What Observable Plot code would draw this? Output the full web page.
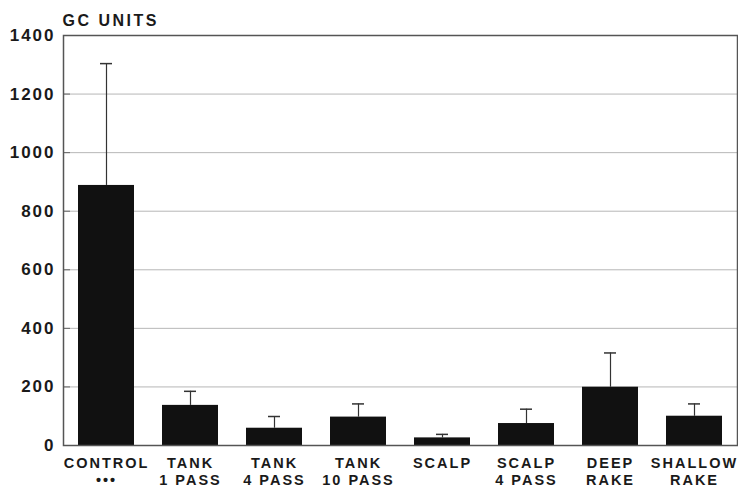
<!DOCTYPE html>
<html>
<head>
<meta charset="utf-8">
<script src="https://cdn.jsdelivr.net/npm/d3@7"></script>
<script src="https://cdn.jsdelivr.net/npm/@observablehq/plot@0.6"></script>
<style>
  html, body { margin: 0; padding: 0; background: #fff; }
  #chart svg { display: block; }
</style>
</head>
<body>
<div id="chart"></div>
<script>
const categories = ["CONTROL", "TANK 1 PASS", "TANK 4 PASS", "TANK 10 PASS", "SCALP", "SCALP 4 PASS", "DEEP RAKE", "SHALLOW RAKE"];
const tickLabels = ["CONTROL\n•••", "TANK\n1 PASS", "TANK\n4 PASS", "TANK\n10 PASS", "SCALP", "SCALP\n4 PASS", "DEEP\nRAKE", "SHALLOW\nRAKE"];
const means = [888, 137, 59, 97, 26, 75, 199, 100];
const errTops = [1304, 185, 99, 142, 38, 124, 316, 142];
const yTicks = [0, 200, 400, 600, 800, 1000, 1200, 1400];
const yLabel = "GC UNITS";

const data = categories.map((c, i) => ({category: c, mean: means[i], err: errTops[i]}));
const labelOf = new Map(categories.map((c, i) => [c, tickLabels[i]]));

const chart = Plot.plot({
  width: 738,
  height: 489,
  marginLeft: 63,
  marginRight: 1,
  marginTop: 35,
  marginBottom: 44,
  style: {fontFamily: "'Liberation Sans', Arial, sans-serif", color: "#1a1a1a", background: "#fff"},
  x: {type: "band", domain: categories, paddingInner: 0.33, paddingOuter: 0.165, axis: null, label: null},
  y: {domain: [0, 1400], axis: null, label: null},
  marks: [
    Plot.gridY(yTicks.slice(1, -1), {stroke: "#999", strokeOpacity: 0.7}),
    Plot.axisY(yTicks.slice(1, -1), {tickSize: 7, dx: 7, tickFormat: () => "", stroke: "#666", label: null}),
    Plot.axisY(yTicks, {tickSize: 0, tickPadding: 8, fontSize: 17, fontWeight: "bold", fill: "#1a1a1a", tickFormat: d => String(d), label: null}),
    Plot.axisX({tickSize: 0, tickPadding: 10, fontSize: 14.5, fontWeight: "bold", lineHeight: 1.2, fill: "#1a1a1a", tickFormat: d => labelOf.get(d), label: null}),
    Plot.ruleX(data, {x: "category", y1: "mean", y2: "err", stroke: "#333", strokeWidth: 1.2}),
    Plot.tickY(data, {x: "category", y: "err", stroke: "#333", strokeWidth: 1.5, insetLeft: 22, insetRight: 22}),
    Plot.barY(data, {x: "category", y: "mean", fill: "#111"}),
    Plot.frame({stroke: "#555", strokeWidth: 1.5}),
    Plot.text([yLabel], {frameAnchor: "top-left", textAnchor: "start", lineAnchor: "bottom", dx: -1, dy: -10, fontSize: 16, fontWeight: "bold", fill: "#1a1a1a"})
  ]
});
d3.select(chart).selectAll("text").style("letter-spacing", "2px");
d3.select(chart).selectAll("g[aria-label='text'] text").style("letter-spacing", "2.5px");
document.getElementById("chart").appendChild(chart);
</script>
</body>
</html>
